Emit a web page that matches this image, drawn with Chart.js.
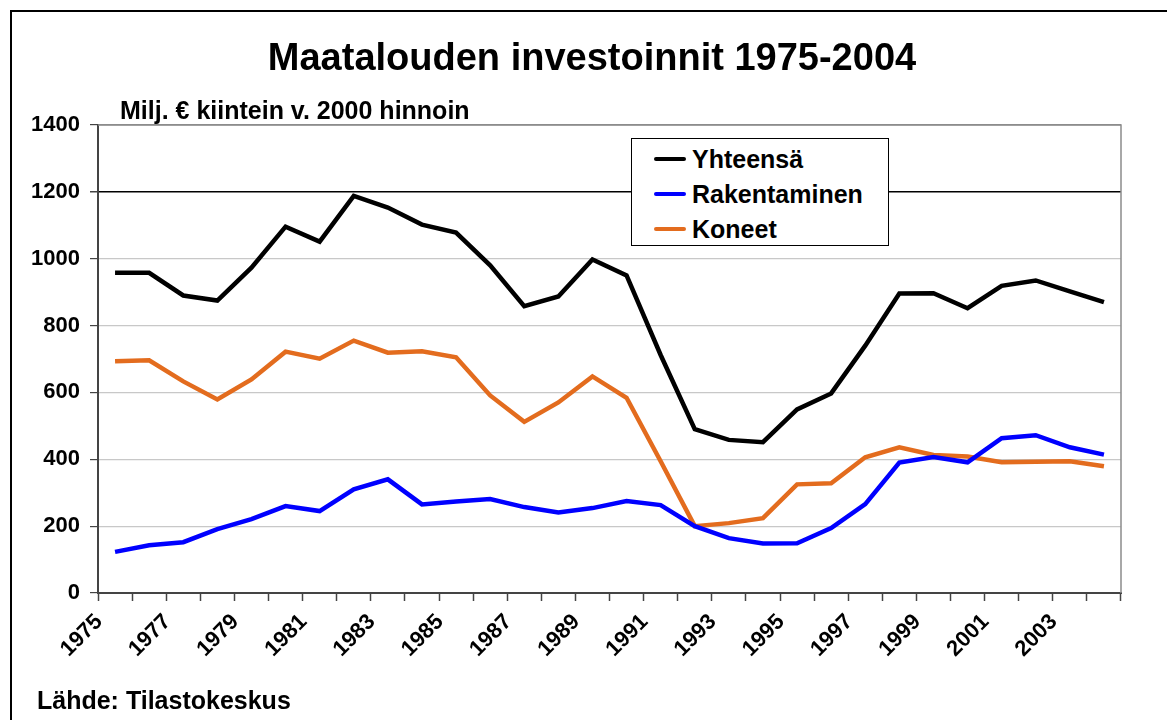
<!DOCTYPE html>
<html>
<head>
<meta charset="utf-8">
<script src="https://cdn.jsdelivr.net/npm/chart.js@4/dist/chart.umd.min.js"></script>
<style>
    body { margin: 0; background: #fff; font-family: "Liberation Sans", Arial, sans-serif; }
    #frame { position: absolute; left: 10px; top: 10px; width: 1180px; height: 740px; border-left: 2px solid #000; border-top: 2px solid #000; }
    #wrap { position: absolute; left: 0; top: 0; width: 1167px; height: 720px; }
    .txt { position: absolute; font-weight: bold; color: #000; white-space: nowrap; }
    #title { left: 0; width: 1184px; top: 36px; text-align: center; font-size: 38px; }
    #subtitle { left: 120px; top: 96px; font-size: 25px; }
    #source { left: 37px; top: 686px; font-size: 25px; }
    #legend { position: absolute; left: 631px; top: 138px; width: 256px; height: 106px; border: 1px solid #000; background: #fff; }
    .legend-item { position: absolute; left: 22px; height: 30px; display: flex; align-items: center; font-weight: bold; font-size: 25px; }
    .legend-line { width: 32px; height: 4px; margin-right: 6px; border-radius: 2px; }
</style>
</head>
<body>
<div id="frame"></div>
<div id="wrap"><canvas id="chart" width="1167" height="720"></canvas></div>
<div id="title" class="txt">Maatalouden investoinnit 1975-2004</div>
<div id="subtitle" class="txt">Milj. € kiintein v. 2000 hinnoin</div>
<div id="source" class="txt">Lähde: Tilastokeskus</div>
<div id="legend"></div>
<script>
'use strict';

const years = ['1975','1976','1977','1978','1979','1980','1981','1982','1983','1984',
               '1985','1986','1987','1988','1989','1990','1991','1992','1993','1994',
               '1995','1996','1997','1998','1999','2000','2001','2002','2003','2004'];

const yhteensa = [958, 958, 890, 875, 973, 1096, 1051, 1188, 1153, 1102,
                  1078, 980, 858, 887, 998, 950, 712, 490, 458, 451,
                  549, 597, 740, 896, 897, 852, 919, 935, 902, 870];

const rakentaminen = [123, 143, 152, 191, 221, 260, 245, 310, 340, 265,
                      274, 281, 257, 241, 254, 275, 263, 200, 164, 148,
                      149, 194, 266, 390, 407, 391, 463, 472, 436, 414];

const koneet = [693, 696, 633, 579, 639, 722, 701, 755, 719, 723,
                705, 591, 512, 570, 648, 584, 394, 200, 209, 224,
                325, 328, 406, 436, 413, 408, 391, 393, 394, 379];

const series_names = ['Yhteensä', 'Rakentaminen', 'Koneet'];
const series_colors = ['#000000', '#0000ff', '#e36c1e'];

const y_ticks_max = 1400;
const y_ticks_step = 200;

const tick_font = { family: '"Liberation Sans", Arial, sans-serif', size: 22, weight: 'bold' };

// plot area has a gray frame on top and right side
const plot_frame = {
    id: 'plot_frame',
    afterDraw: chart => {
        const { ctx, chartArea } = chart;
        ctx.save();
        ctx.strokeStyle = '#8c8c8c';
        ctx.lineWidth = 1.5;
        ctx.beginPath();
        ctx.moveTo(chartArea.left, chartArea.top);
        ctx.lineTo(chartArea.right, chartArea.top);
        ctx.lineTo(chartArea.right, chartArea.bottom);
        ctx.stroke();
        ctx.restore();
    }
};

const make_dataset = (name, values, color) => ({
    label: name,
    data: values,
    borderColor: color,
    backgroundColor: color,
    borderWidth: 4.5,
    pointRadius: 0,
    tension: 0,
    borderJoinStyle: 'miter'
});

const chart = new Chart(document.querySelector('#chart'), {
    type: 'line',
    data: {
        labels: years,
        datasets: [
            make_dataset(series_names[0], yhteensa, series_colors[0]),
            make_dataset(series_names[1], rakentaminen, series_colors[1]),
            make_dataset(series_names[2], koneet, series_colors[2])
        ]
    },
    options: {
        responsive: false,
        animation: false,
        layout: { padding: { left: 0, top: 125, right: 46, bottom: 0 } },
        plugins: { legend: { display: false }, tooltip: { enabled: false }, title: { display: false } },
        scales: {
            x: {
                type: 'category',
                offset: true,
                afterFit: scale => { scale.height = 127; },
                grid: { offset: true, drawOnChartArea: false, drawTicks: true, tickLength: 8, tickColor: '#444', tickWidth: 1.5 },
                border: { color: '#444', width: 2 },
                ticks: {
                    autoSkip: false,
                    maxRotation: 45,
                    minRotation: 45,
                    padding: 8,
                    labelOffset: -16,
                    color: '#000',
                    font: tick_font,
                    callback: (value, index) => index % 2 === 0 ? years[index] : ''
                }
            },
            y: {
                min: 0,
                max: y_ticks_max,
                afterFit: scale => { scale.width = 98; },
                grid: {
                    drawTicks: true,
                    tickLength: 8,
                    tickColor: '#444',
                    color: c => c.tick.value === 1200 ? '#000' : (c.tick.value === y_ticks_max ? '#8c8c8c' : '#c8c8c8'),
                    lineWidth: c => c.tick.value === 1200 ? 1.5 : 1.2
                },
                border: { color: '#444', width: 2 },
                ticks: { stepSize: y_ticks_step, padding: 10, color: '#000', font: tick_font, callback: value => String(value) }
            }
        }
    },
    plugins: [plot_frame]
});

// legend built from the chart datasets
const legend_box = document.querySelector('#legend');
chart.data.datasets.forEach((ds, i) => {
    const item = document.createElement('div');
    item.className = 'legend-item';
    item.style.top = `${5 + i * 35}px`;
    item.innerHTML = `<span class="legend-line" style="background:${ds.borderColor}"></span><span>${ds.label}</span>`;
    legend_box.appendChild(item);
});
</script>
</body>
</html>
